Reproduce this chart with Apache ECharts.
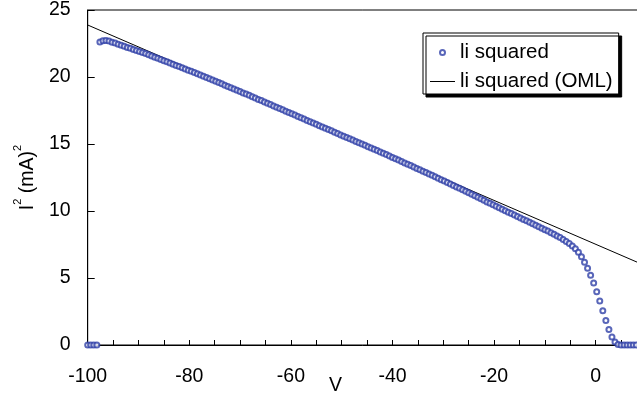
<!DOCTYPE html>
<html>
<head>
<meta charset="utf-8">
<script src="https://cdn.jsdelivr.net/npm/echarts@6/dist/echarts.min.js"></script>
<style>
html,body{margin:0;padding:0;background:#fff;}
#chart{width:637px;height:400px;}
</style>
</head>
<body>
<div id="chart"></div>
<script>
// Probe voltage (V)
var voltage = [
-100,-99.4,-98.8,-98.2,-97.6,-97,-96.4,-95.8,-95.2,-94.6,
-94,-93.4,-92.8,-92.2,-91.6,-91,-90.4,-89.8,-89.2,-88.6,
-88,-87.4,-86.8,-86.2,-85.6,-85,-84.4,-83.8,-83.2,-82.6,
-82,-81.4,-80.8,-80.2,-79.6,-79,-78.4,-77.8,-77.2,-76.6,
-76,-75.4,-74.8,-74.2,-73.6,-73,-72.4,-71.8,-71.2,-70.6,
-70,-69.4,-68.8,-68.2,-67.6,-67,-66.4,-65.8,-65.2,-64.6,
-64,-63.4,-62.8,-62.2,-61.6,-61,-60.4,-59.8,-59.2,-58.6,
-58,-57.4,-56.8,-56.2,-55.6,-55,-54.4,-53.8,-53.2,-52.6,
-52,-51.4,-50.8,-50.2,-49.6,-49,-48.4,-47.8,-47.2,-46.6,
-46,-45.4,-44.8,-44.2,-43.6,-43,-42.4,-41.8,-41.2,-40.6,
-40,-39.4,-38.8,-38.2,-37.6,-37,-36.4,-35.8,-35.2,-34.6,
-34,-33.4,-32.8,-32.2,-31.6,-31,-30.4,-29.8,-29.2,-28.6,
-28,-27.4,-26.8,-26.2,-25.6,-25,-24.4,-23.8,-23.2,-22.6,
-22,-21.4,-20.8,-20.2,-19.6,-19,-18.4,-17.8,-17.2,-16.6,
-16,-15.4,-14.8,-14.2,-13.6,-13,-12.4,-11.8,-11.2,-10.6,
-10,-9.4,-8.8,-8.2,-7.6,-7,-6.4,-5.8,-5.2,-4.6,
-4,-3.4,-2.8,-2.2,-1.6,-1,-0.4,0.2,0.8,1.4,
2,2.6,3.2,3.8,4.4,5,5.6,6.2,6.8,7.4,
8
];
// Ii squared (mA^2)
var iiSquared = [
0,0,0,0,22.62,22.70,22.72,22.68,22.60,22.53,
22.45,22.37,22.29,22.21,22.14,22.06,21.98,21.90,21.82,21.75,
21.66,21.57,21.48,21.39,21.30,21.22,21.13,21.04,20.95,20.86,
20.78,20.69,20.60,20.51,20.42,20.33,20.25,20.15,20.06,19.96,
19.87,19.78,19.68,19.59,19.49,19.39,19.30,19.20,19.11,19.01,
18.91,18.81,18.73,18.63,18.53,18.43,18.33,18.24,18.14,18.04,
17.94,17.84,17.74,17.65,17.55,17.45,17.35,17.25,17.16,17.06,
16.96,16.86,16.76,16.66,16.57,16.47,16.37,16.27,16.17,16.08,
15.98,15.88,15.78,15.68,15.58,15.49,15.39,15.29,15.19,15.09,
15.00,14.90,14.80,14.70,14.60,14.51,14.41,14.31,14.21,14.11,
14.00,13.90,13.80,13.70,13.59,13.49,13.39,13.29,13.18,13.08,
12.97,12.87,12.77,12.66,12.56,12.45,12.34,12.24,12.13,12.02,
11.91,11.80,11.69,11.59,11.48,11.36,11.25,11.13,11.03,10.91,
10.80,10.68,10.57,10.46,10.35,10.24,10.13,10.02,9.91,9.81,
9.70,9.59,9.48,9.37,9.27,9.16,9.05,8.94,8.83,8.72,
8.61,8.50,8.38,8.26,8.14,8.02,7.88,7.73,7.57,7.39,
7.19,6.92,6.58,6.18,5.72,5.21,4.63,3.98,3.28,2.55,
1.82,1.15,0.60,0.22,0.04,0,0,0,0,0,
0
];
// OML fit line endpoints
var omlVoltage = [-100, 10];
var omlValues = [23.88, 5.88];

var seriesNames = ['li squared', 'li squared (OML)'];

var FONT = '"Liberation Sans", Arial, sans-serif';
var FS = 19.5;

var scatterData = voltage.map(function(v, i){ return [v, iiSquared[i]]; });
var lineData = omlVoltage.map(function(v, i){ return [v, omlValues[i]]; });

var chart = echarts.init(document.getElementById('chart'), null, {renderer:'canvas'});
chart.setOption({
  animation: false,
  backgroundColor: '#fff',
  textStyle: {fontFamily: FONT},
  grid: {left: 87.7, top: 10, width: 558.8, height: 335, outerBoundsMode: 'none', containLabel: false,
         show: true, borderColor: '#000', borderWidth: 1, backgroundColor: 'transparent'},
  legend: {
    left: 423, top: 33, orient: 'vertical',
    padding: [9, 6, 2, 7],
    itemGap: 8,
    itemWidth: 25, itemHeight: 5,
    backgroundColor: '#fff', borderColor: '#000', borderWidth: 1,
    shadowColor: '#000', shadowBlur: 0, shadowOffsetX: 3, shadowOffsetY: 3,
    textStyle: {fontFamily: FONT, fontSize: 20.5, color: '#000', lineHeight: 20},
    data: [
      {name: seriesNames[0], icon: 'emptyCircle'},
      {name: seriesNames[1], icon: 'path://M0,0 L25,0 L25,1 L0,1 Z'}
    ]
  },
  xAxis: {
    type: 'value', min: -100, max: 10, interval: 20,
    axisLine: {show: true, onZero: false, lineStyle: {color: '#000', width: 1}},
    axisTick: {show: true, inside: true, length: 5, lineStyle: {color: '#000'}},
    minorTick: {show: true, splitNumber: 4, length: 5, lineStyle: {color: '#000'}},
    splitLine: {show: false},
    axisLabel: {color: '#000', fontSize: FS, fontFamily: FONT, margin: 22, showMaxLabel: false}
  },
  yAxis: {
    type: 'value', min: 0, max: 25, interval: 5,
    name: '{a|I}{s|2}{a| (mA)}{s|2}',
    nameLocation: 'middle', nameRotate: 90, nameGap: 48,
    nameTextStyle: {
      rich: {
        a: {fontSize: FS, fontFamily: FONT, color: '#000', lineHeight: 26, verticalAlign: 'bottom'},
        s: {fontSize: 11, fontFamily: FONT, color: '#000', lineHeight: 11, verticalAlign: 'top'}
      }
    },
    axisLine: {show: true, onZero: false, lineStyle: {color: '#000', width: 1}},
    axisTick: {show: true, inside: true, length: 7, lineStyle: {color: '#000'}},
    splitLine: {show: false},
    axisLabel: {color: '#000', fontSize: FS, fontFamily: FONT, margin: 17}
  },
  graphic: [{
    type: 'text', left: 329, top: 376,
    style: {text: 'V', font: FS + 'px ' + FONT, fill: '#000'}
  }],
  series: [
    {
      name: seriesNames[0], type: 'scatter', data: scatterData,
      symbol: 'emptyCircle', symbolSize: 5,
      itemStyle: {color: '#3040a8', borderColor: '#3040a8', borderWidth: 1},
      clip: true, z: 3
    },
    {
      name: seriesNames[1], type: 'line', data: lineData,
      symbol: 'none', lineStyle: {color: '#000', width: 1},
      itemStyle: {color: '#000'},
      clip: true, z: 2
    }
  ]
});
</script>
</body>
</html>
